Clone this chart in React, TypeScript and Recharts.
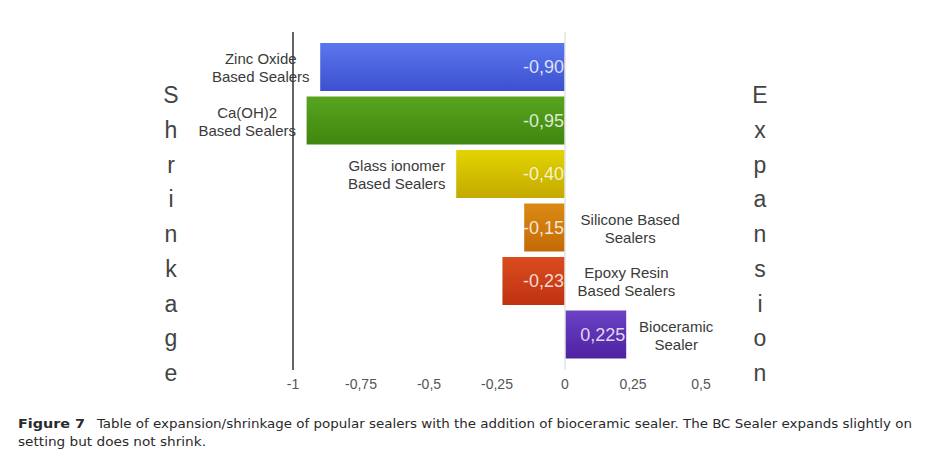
import React from "react";
import { BarChart, Bar, XAxis, YAxis, Cell, LabelList, ReferenceLine } from "recharts";

// sealer groups, top to bottom
const sealerNames = [
  ["Zinc Oxide", "Based Sealers"],
  ["Ca(OH)2", "Based Sealers"],
  ["Glass ionomer", "Based Sealers"],
  ["Silicone Based", "Sealers"],
  ["Epoxy Resin", "Based Sealers"],
  ["Bioceramic", "Sealer"],
];
const dimensionalChange = [-0.9, -0.95, -0.4, -0.15, -0.23, 0.225];
const xTicks = [-1, -0.75, -0.5, -0.25, 0, 0.25, 0.5];

const shrinkWord = "Shrinkage";
const expandWord = "Expansion";

const captionHead = "Figure 7";
const captionLine1 =
  "Table of expansion/shrinkage of popular sealers with the addition of bioceramic sealer. The BC Sealer expands slightly on";
const captionLine2 = "setting but does not shrink.";

// top / bottom stops of each bar gradient
const BAR_COLORS = [
  ["#5a77ee", "#3c50cf"],
  ["#58a41e", "#3f870f"],
  ["#e2d400", "#c4a900"],
  ["#da8a12", "#c46a08"],
  ["#da4c1e", "#bf3210"],
  ["#6a42c4", "#4f22a2"],
];

const rows = sealerNames.map((lines, i) => ({
  key: lines.join(" "),
  lines,
  value: dimensionalChange[i],
}));

const fmt = (v: number) => v.toLocaleString("de-DE", { minimumFractionDigits: 2 });
const tickFmt = (v: number) => v.toLocaleString("de-DE");

const FONT = "'Liberation Sans', Arial, Helvetica, sans-serif";

const ValueLabel = (props: any) => {
  const { x, y, width, height, value } = props;
  const right = Math.max(x, x + width);
  return (
    <text
      x={right - 1}
      y={y + height / 2}
      textAnchor="end"
      dominantBaseline="central"
      fontFamily={FONT}
      fontSize={18}
      fill="rgba(255,255,255,0.82)"
    >
      {fmt(value)}
    </text>
  );
};

const NameLabel = (props: any) => {
  const { x, y, width, height, index } = props;
  const row = rows[index];
  const left = Math.min(x, x + width);
  const right = Math.max(x, x + width);
  // long shrinkage bars get the name on their left, the rest to the right
  const onLeft = row.value <= -0.3;
  const anchorX = onLeft ? left - 10 : right + 12;
  const lines = row.lines;
  const cx = y + height / 2;
  const w = Math.max(...lines.map((l) => l.length)) * 7.6;
  const mid = onLeft ? anchorX - w / 2 : anchorX + w / 2;
  return (
    <text
      fontFamily={FONT}
      fontSize={15}
      fill="#3a3a3a"
      textAnchor="middle"
      dominantBaseline="central"
    >
      {lines.map((line, i) => (
        <tspan key={i} x={mid} y={cx + (i - (lines.length - 1) / 2) * 18}>
          {line}
        </tspan>
      ))}
    </text>
  );
};

const letterColumn = (word: string, left: number) => (
  <div
    style={{
      position: "absolute",
      left: left - 20,
      top: 78,
      width: 40,
      textAlign: "center",
      fontFamily: FONT,
      fontSize: 23,
      lineHeight: "34.75px",
      color: "#444",
    }}
  >
    {word.split("").map((ch, i) => (
      <div key={i}>{ch}</div>
    ))}
  </div>
);

export default function App() {
  return (
    <div
      style={{
        position: "absolute",
        left: 0,
        top: 0,
        width: 942,
        height: 457,
        background: "#fff",
        overflow: "hidden",
      }}
    >
      <BarChart
        width={942}
        height={400}
        data={rows}
        layout="vertical"
        margin={{ top: 32, right: 173, bottom: 0, left: 292 }}
      >
        <defs>
          {BAR_COLORS.map(([a, b], i) => (
            <linearGradient key={i} id={`seal-${i}`} x1="0" y1="0" x2="0" y2="1">
              <stop offset="0%" stopColor={a} />
              <stop offset="100%" stopColor={b} />
            </linearGradient>
          ))}
        </defs>
        <ReferenceLine x={0} stroke="#e4e4e4" strokeWidth={1.5} />
        <XAxis
          type="number"
          domain={[-1, 0.75]}
          ticks={xTicks}
          interval={0}
          axisLine={false}
          tickLine={false}
          tickMargin={3}
          tickFormatter={tickFmt}
          tick={{ fontSize: 14, fill: "#555", fontFamily: FONT }}
        />
        <YAxis
          type="category"
          dataKey="key"
          width={1}
          tick={false}
          tickLine={false}
          padding={{ top: 8, bottom: 9 }}
          axisLine={{ stroke: "#5a5a5a", strokeWidth: 1.5 }}
        />
        <ReferenceLine x={-1} stroke="#5a5a5a" strokeWidth={1.5} />
        <Bar dataKey="value" barSize={48} isAnimationActive={false}>
          {rows.map((_, i) => (
            <Cell key={i} fill={`url(#seal-${i})`} />
          ))}
          <LabelList dataKey="value" content={<ValueLabel />} />
          <LabelList dataKey="key" content={<NameLabel />} />
        </Bar>
      </BarChart>

      {letterColumn(shrinkWord, 171)}
      {letterColumn(expandWord, 760)}

      <svg width={942} height={57} style={{ position: "absolute", left: 0, top: 400 }}>
        <g fontFamily="'DejaVu Sans Condensed', 'DejaVu Sans', sans-serif" fontSize={13} fill="#2a2a2a">
          <text x={18} y={28} fontWeight="bold" textLength={67} lengthAdjust="spacingAndGlyphs">
            {captionHead}
          </text>
          <text x={97} y={28} textLength={815} lengthAdjust="spacingAndGlyphs">
            {captionLine1}
          </text>
          <text x={18} y={46} textLength={188} lengthAdjust="spacingAndGlyphs">
            {captionLine2}
          </text>
        </g>
      </svg>
    </div>
  );
}
